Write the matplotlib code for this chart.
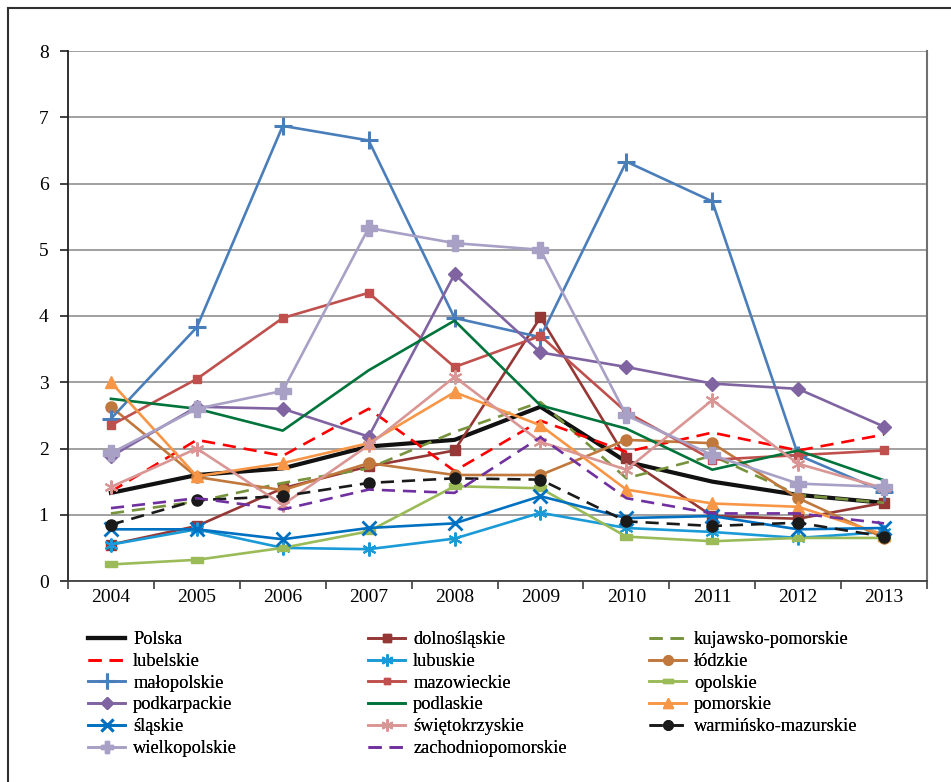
import numpy as np
import matplotlib
matplotlib.use("Agg")
import matplotlib.pyplot as plt
from matplotlib.lines import Line2D

plt.rcParams["font.family"] = ["Liberation Serif", "DejaVu Serif"]

years = ["2004", "2005", "2006", "2007", "2008", "2009", "2010", "2011", "2012", "2013"]

polska = [1.33, 1.60, 1.70, 2.03, 2.13, 2.63, 1.80, 1.50, 1.30, 1.18]
dolnoslaskie = [0.55, 0.83, 1.40, 1.73, 1.97, 3.98, 1.85, 0.98, 0.94, 1.18]
kujawsko_pomorskie = [1.02, 1.20, 1.48, 1.70, 2.25, 2.70, 1.55, 1.89, 1.30, 1.18]
lubelskie = [1.35, 2.13, 1.89, 2.60, 1.66, 2.42, 1.95, 2.24, 1.97, 2.21]
lubuskie = [0.55, 0.78, 0.50, 0.48, 0.64, 1.03, 0.80, 0.74, 0.65, 0.74]
lodzkie = [2.63, 1.57, 1.37, 1.78, 1.60, 1.60, 2.13, 2.08, 1.25, 0.65]
malopolskie = [2.45, 3.83, 6.87, 6.65, 3.97, 3.68, 6.33, 5.73, 1.90, 1.35]
mazowieckie = [2.35, 3.05, 3.97, 4.35, 3.23, 3.70, 2.55, 1.83, 1.90, 1.97]
opolskie = [0.25, 0.32, 0.50, 0.75, 1.43, 1.40, 0.67, 0.60, 0.65, 0.65]
podkarpackie = [1.88, 2.63, 2.60, 2.18, 4.63, 3.45, 3.23, 2.98, 2.90, 2.33]
podlaskie = [2.75, 2.60, 2.27, 3.18, 3.93, 2.65, 2.30, 1.68, 1.97, 1.52]
pomorskie = [3.00, 1.58, 1.78, 2.08, 2.85, 2.35, 1.38, 1.17, 1.12, 0.70]
slaskie = [0.78, 0.78, 0.63, 0.80, 0.87, 1.28, 0.95, 0.98, 0.78, 0.80]
swietokrzyskie = [1.42, 2.00, 1.15, 2.05, 3.08, 2.10, 1.68, 2.73, 1.77, 1.40]
warminsko_mazurskie = [0.85, 1.22, 1.28, 1.48, 1.55, 1.53, 0.90, 0.83, 0.88, 0.67]
wielkopolskie = [1.93, 2.60, 2.87, 5.33, 5.10, 5.00, 2.50, 1.90, 1.47, 1.42]
zachodniopomorskie = [1.10, 1.25, 1.08, 1.38, 1.33, 2.17, 1.25, 1.02, 1.02, 0.87]

# asterisk and flat-bar marker shapes
asterisk = (6, 2, 0)
bar_marker = [(-1, -0.45), (1, -0.45), (1, 0.45), (-1, 0.45), (-1, -0.45)]

# name, values, color, linestyle, marker, markersize, markeredgewidth
series = [
    ("Polska", polska, "#111111", "-", None, 0, 0),
    ("dolnośląskie", dolnoslaskie, "#953735", "-", "s", 7, 1),
    ("kujawsko-pomorskie", kujawsko_pomorskie, "#77933C", (0, (5, 3)), None, 0, 0),
    ("lubelskie", lubelskie, "#FF0000", (0, (5, 3)), None, 0, 0),
    ("lubuskie", lubuskie, "#1A9AD6", "-", asterisk, 10, 1.5),
    ("łódzkie", lodzkie, "#C0783C", "-", "o", 8, 1),
    ("małopolskie", malopolskie, "#4A7EBB", "-", "+", 13, 2.2),
    ("mazowieckie", mazowieckie, "#C0504D", "-", "s", 5.5, 1),
    ("opolskie", opolskie, "#9BBB59", "-", bar_marker, 9, 1),
    ("podkarpackie", podkarpackie, "#8064A2", "-", "D", 7, 1),
    ("podlaskie", podlaskie, "#00743A", "-", None, 0, 0),
    ("pomorskie", pomorskie, "#F79646", "-", "^", 9, 1),
    ("śląskie", slaskie, "#0070C0", "-", "x", 10, 2),
    ("świętokrzyskie", swietokrzyskie, "#D99694", "-", asterisk, 10, 1.5),
    ("warmińsko-mazurskie", warminsko_mazurskie, "#1A1A1A", (0, (5, 3)), "o", 8, 1),
    ("wielkopolskie", wielkopolskie, "#A9A0C6", "-", "P", 11, 1),
    ("zachodniopomorskie", zachodniopomorskie, "#7030A0", (0, (5, 3)), None, 0, 0),
]

fig = plt.figure(figsize=(9.51, 7.82), dpi=100)
ax = fig.add_axes([68 / 951, 1 - 581 / 782, (927 - 68) / 951, (581 - 51) / 782])

x = np.arange(len(years))
handles = []
for name, vals, color, ls, mk, ms, mew in series:
    lw = 3 if name == "Polska" else 1.9
    (h,) = ax.plot(x, vals, color=color, linestyle=ls, linewidth=lw,
                   marker=mk, markersize=ms, markeredgewidth=mew,
                   markerfacecolor=color, markeredgecolor=color, label=name)
    handles.append(h)

ax.set_xlim(-0.5, len(years) - 0.5)
ax.set_ylim(0, 8)
ax.set_yticks(range(0, 9))
ax.set_xticks(x)
ax.set_xticklabels(years)
ax.set_xticks(np.arange(-0.5, len(years), 1), minor=True)
ax.tick_params(axis="x", which="major", length=0, labelsize=14, pad=6)
ax.tick_params(axis="x", which="minor", length=6, width=1.2, color="#404040", direction="out")
ax.tick_params(axis="y", length=6, width=1.2, labelsize=14, pad=8, color="#202020")
ax.yaxis.grid(True, color="#A0A0A0", linewidth=1.4)
ax.set_axisbelow(True)
ax.spines["top"].set_visible(False)
ax.spines["left"].set_color("#202020")
ax.spines["left"].set_linewidth(1.3)
ax.spines["bottom"].set_color("#404040")
ax.spines["bottom"].set_linewidth(1.3)
ax.spines["right"].set_color("#707070")
ax.spines["right"].set_linewidth(1.5)

# three legend columns placed by hand
cols = [handles[0:1] + handles[3:4] + handles[6:7] + handles[9:10] + handles[12:13] + handles[15:16],
        handles[1:2] + handles[4:5] + handles[7:8] + handles[10:11] + handles[13:14] + handles[16:17],
        handles[2:3] + handles[5:6] + handles[8:9] + handles[11:12] + handles[14:15]]
col_x = [79, 359, 640]
for hs, cx in zip(cols, col_x):
    leg = fig.legend(handles=hs, labels=[h.get_label() for h in hs],
                     loc="upper left", bbox_to_anchor=(cx / 951, 1 - 622 / 782),
                     frameon=False, fontsize=13.2, handlelength=2.0,
                     handletextpad=0.45, labelspacing=0.26, borderpad=0,
                     markerscale=0.85)
    fig.add_artist(leg)

# outer frame
fig.add_artist(Line2D([8 / 951, 8 / 951], [0, 1 - 8 / 782], transform=fig.transFigure,
                      color="#303030", linewidth=1.5))
fig.add_artist(Line2D([8 / 951, 1], [1 - 8 / 782, 1 - 8 / 782], transform=fig.transFigure,
                      color="#303030", linewidth=1.5))

fig.savefig("out.png", dpi=100)
